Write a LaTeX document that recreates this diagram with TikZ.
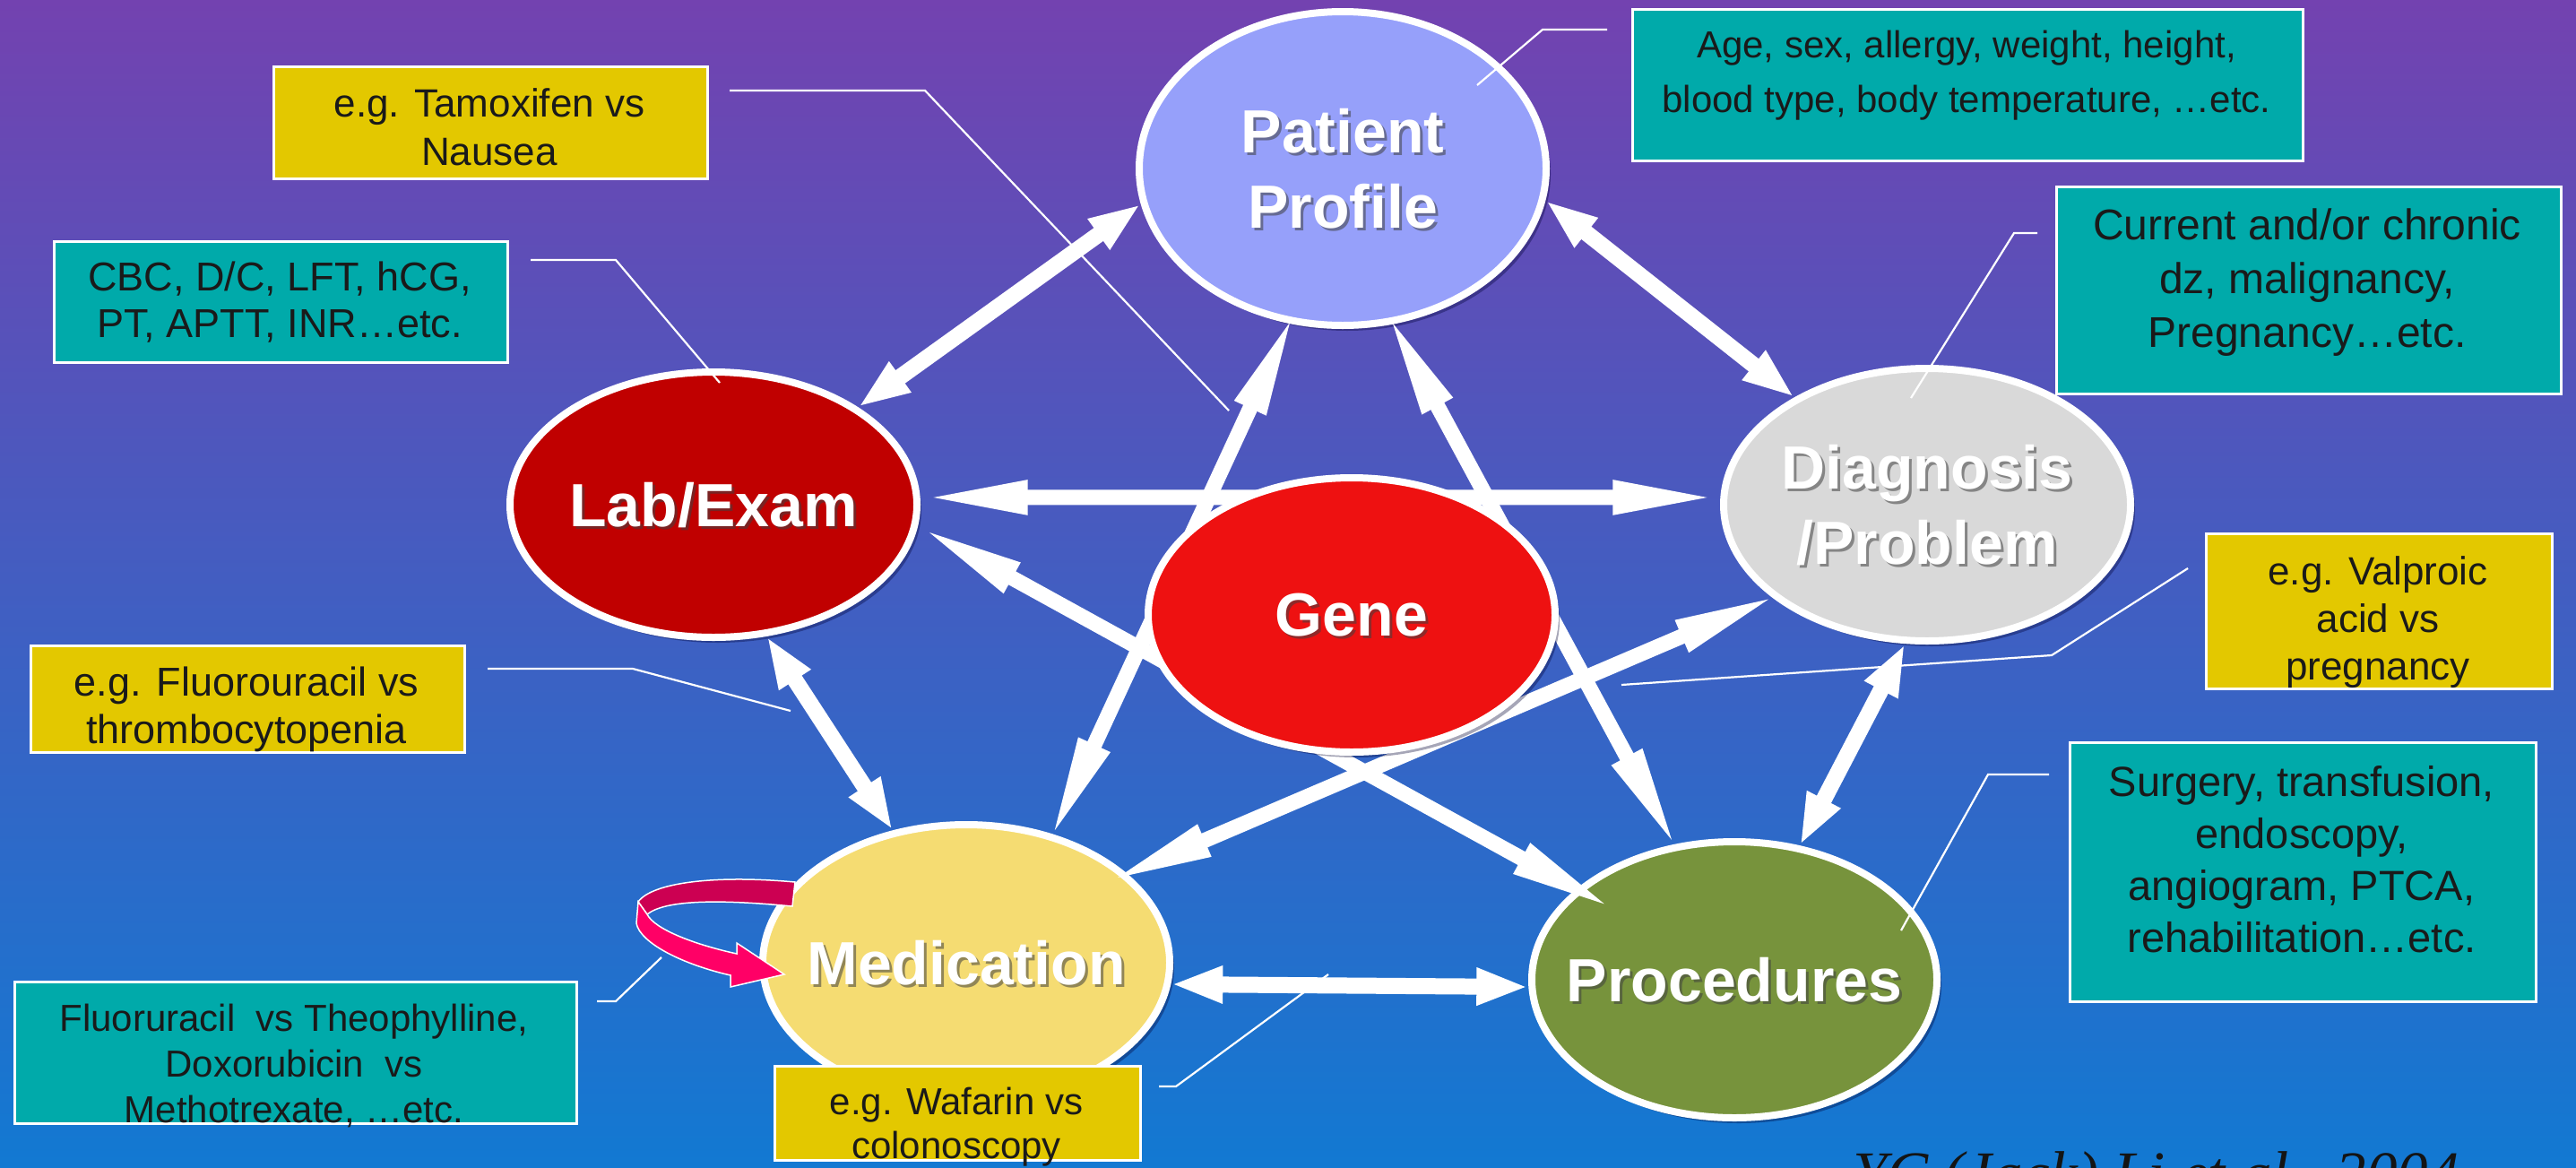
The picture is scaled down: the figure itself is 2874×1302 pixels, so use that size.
\documentclass[tikz,border=0pt]{standalone}
\usepackage{fontspec}
\setmainfont{Liberation Sans}
\newfontfamily\citeserif{Liberation Serif}
\usetikzlibrary{arrows.meta,shapes.geometric,shadows}
\pgfdeclarelayer{backdrop}
\pgfdeclarelayer{bubbles}
\pgfdeclarelayer{links}
\pgfsetlayers{backdrop,bubbles,links,main}

\definecolor{bgtop}{RGB}{115,66,176}
\definecolor{bgmid}{RGB}{72,90,192}
\definecolor{bgbot}{RGB}{18,121,210}
\definecolor{tealc}{RGB}{0,170,170}
\definecolor{goldc}{RGB}{227,200,0}
\definecolor{inktext}{RGB}{26,26,26}
\definecolor{ppfill}{RGB}{150,160,250}
\definecolor{labfill}{RGB}{192,0,0}
\definecolor{diafill}{RGB}{217,217,217}
\definecolor{genefill}{RGB}{238,17,17}
\definecolor{medfill}{RGB}{245,220,114}
\definecolor{profill}{RGB}{119,147,60}
\definecolor{ribbondark}{RGB}{204,0,82}
\definecolor{ribbonbright}{RGB}{255,0,102}

% centred lines stacked so that the box baseline is the first line's baseline
\newcommand\linestack[1]{\vtop{\halign{\hfil##\hfil\cr#1\crcr}}}

\tikzset{
  lbl/.style={font=\fontsize{68}{84}\selectfont\bfseries, align=center, text depth=0pt},
  bubble/.style={ellipse, draw=white, line width=8pt, inner sep=0pt, inner xsep=-40pt,
    text=white, lbl,
    drop shadow={shadow xshift=5pt, shadow yshift=-6pt, opacity=0.35, fill=black!80!blue},
    path picture={\node[lbl, shape=rectangle, draw=none, fill=none, inner sep=0pt,
      text=black!75, opacity=0.55]
      at ([xshift=3pt,yshift=-3pt]path picture bounding box.center) {#1};}},
  link/.style={draw=white, line width=18pt, >={Triangle[length=58pt,width=38pt]}, <->},
  starlink/.style={draw=white, line width=17pt, >={Triangle[length=120pt,width=34pt]}, <->},
  tealnote/.style={draw=white, line width=2.5pt, fill=tealc, inner sep=0pt, anchor=north west},
  goldnote/.style={draw=white, line width=2.5pt, fill=goldc, inner sep=0pt, anchor=north west},
  note/.style 2 args={anchor=base, text=inktext, inner sep=0pt, font=\fontsize{#1}{#2}\selectfont},
  leader/.style={draw=white, line width=2.2pt},
}

\begin{document}
\begin{tikzpicture}[x=1pt,y=-1pt]
\useasboundingbox (0,0) rectangle (2874,1302);
\begin{pgfonlayer}{backdrop}
  \shade[top color=bgtop, middle color=bgmid, bottom color=bgbot] (0,0) rectangle (2874,1302);
\end{pgfonlayer}

% the five outer topics
\begin{pgfonlayer}{bubbles}
\node[bubble={Patient\\Profile}, fill=ppfill, minimum width=454pt, minimum height=350pt]
  (pp) at (1498,188) {Patient\\Profile};
\node[bubble={Lab/Exam}, fill=labfill, minimum width=454pt, minimum height=296pt]
  (lab) at (796,563) {Lab/Exam};
\node[bubble={Diagnosis\\/Problem}, fill=diafill, minimum width=454pt, minimum height=304pt]
  (dia) at (2150,563) {Diagnosis\\/Problem};
\node[bubble={Medication}, fill=medfill, minimum width=454pt, minimum height=308pt]
  (med) at (1078,1074) {Medication};
\node[bubble={Procedures}, fill=profill, minimum width=452pt, minimum height=308pt]
  (pro) at (1935,1093) {Procedures};
\end{pgfonlayer}

% double arrows between every pair of outer topics
\begin{pgfonlayer}{links}
  \draw[link] (pp.190) -- (lab.34);
  \draw[link] (pp.351) -- (dia.141);
  \draw[link] (lab.292) -- (med.119);
  \draw[link] (dia.261) -- (pro.64);
  \draw[link] (med.354) -- (pro.182);
  \draw[starlink] (lab.2) -- (dia.178);
  \draw[starlink, shorten <=-16pt, shorten >=-10pt] (pp.251) -- (med.56);
  \draw[starlink, shorten <=-16pt, shorten >=-9pt] (pp.288) -- (pro.114);
  \draw[starlink, shorten >=-50pt] (lab.354) -- (pro.150);
  \draw[starlink, shorten <=-26pt, shorten >=-10pt] (med.29) -- (dia.211);
\end{pgfonlayer}

% the central topic sits over the arrows
\node[bubble={Gene}, fill=genefill, minimum width=454pt, minimum height=306pt]
  (gene) at (1508,686) {Gene};

% twisted ribbon arrow looping back into Medication
\fill[ribbondark, draw=white, line width=1.5pt]
  (887,984) -- (884,1011) .. controls (800,1003) and (742,1004) .. (722,1020)
  -- (712,1006) .. controls (728,984) and (800,976) .. (887,984) -- cycle;
\fill[ribbonbright, draw=white, line width=1.5pt]
  (712,1006) -- (710,1030) .. controls (714,1052) and (762,1076) .. (815,1088)
  -- (815,1101) -- (875,1087) -- (822,1052) -- (822,1064)
  .. controls (772,1053) and (730,1036) .. (722,1020) -- cycle;

% note boxes
\node[tealnote, minimum width=748pt, minimum height=169pt] (agebox) at (1820,9) {};
\node[note={42}{61}] (agetext) at (2194,64)
  {\linestack{Age, sex, allergy, weight, height,\cr blood type, body temperature, …etc.}};

\node[goldnote, minimum width=484pt, minimum height=125pt] (tambox) at (304,73) {};
\node[note={44}{54}] (tamtext) at (546,130)
  {\linestack{e.g. Tamoxifen vs\cr Nausea}};

\node[tealnote, minimum width=506pt, minimum height=135pt] (cbcbox) at (59,268) {};
\node[note={45}{52}] (cbctext) at (312,324)
  {\linestack{CBC, D/C, LFT, hCG,\cr PT, APTT, INR…etc.}};

\node[tealnote, minimum width=563pt, minimum height=231pt] (curbox) at (2293,207) {};
\node[note={48}{60}] (curtext) at (2574,267)
  {\linestack{Current and/or chronic\cr dz, malignancy,\cr Pregnancy…etc.}};

\node[goldnote, minimum width=386pt, minimum height=173pt] (valbox) at (2460,594) {};
\node[note={44}{53}] (valtext) at (2653,652)
  {\linestack{e.g. Valproic\cr acid vs\cr pregnancy}};

\node[goldnote, minimum width=484pt, minimum height=119pt] (flubox) at (33,719) {};
\node[note={45}{53}] (flutext) at (275,776)
  {\linestack{e.g. Fluorouracil vs\cr thrombocytopenia}};

\node[tealnote, minimum width=520pt, minimum height=289pt] (surbox) at (2308,827) {};
\node[note={47}{58}] (surtext) at (2568,888)
  {\linestack{Surgery, transfusion,\cr endoscopy,\cr angiogram, PTCA,\cr rehabilitation…etc.}};

\node[tealnote, minimum width=627pt, minimum height=158pt] (theobox) at (15,1094) {};
\node[note={42}{51}] (theotext) at (328,1150)
  {\linestack{Fluoruracil\ \ vs Theophylline,\cr Doxorubicin\ \ vs\cr Methotrexate, …etc.}};

\node[goldnote, minimum width=408pt, minimum height=105pt] (wafbox) at (863,1188) {};
\node[note={42}{49}] (waftext) at (1067,1243)
  {\linestack{e.g. Wafarin vs\cr colonoscopy}};

% leader lines from the notes
\coordinate (a1) at (1793,33);  \coordinate (a2) at (1721,33);  \coordinate (a3) at (1648,95);
\coordinate (b1) at (814,101);  \coordinate (b2) at (1032,101); \coordinate (b3) at (1371,458);
\coordinate (c1) at (592,290);  \coordinate (c2) at (687,290);  \coordinate (c3) at (803,427);
\coordinate (d1) at (2273,260); \coordinate (d2) at (2247,260); \coordinate (d3) at (2132,444);
\coordinate (e1) at (2441,634); \coordinate (e2) at (2289,731); \coordinate (e3) at (1809,764);
\coordinate (f1) at (544,746);  \coordinate (f2) at (706,746);  \coordinate (f3) at (882,793);
\coordinate (g1) at (2286,864); \coordinate (g2) at (2218,864); \coordinate (g3) at (2121,1038);
\coordinate (h1) at (666,1117); \coordinate (h2) at (687,1117); \coordinate (h3) at (738,1068);
\coordinate (i1) at (1293,1212); \coordinate (i2) at (1312,1212); \coordinate (i3) at (1482,1087);
\draw[leader] (a1) -- (a2) -- (a3);
\draw[leader] (b1) -- (b2) -- (b3);
\draw[leader] (c1) -- (c2) -- (c3);
\draw[leader] (d1) -- (d2) -- (d3);
\draw[leader] (e1) -- (e2) -- (e3);
\draw[leader] (f1) -- (f2) -- (f3);
\draw[leader] (g1) -- (g2) -- (g3);
\draw[leader] (h1) -- (h2) -- (h3);
\draw[leader] (i1) -- (i2) -- (i3);

% source line
\node[anchor=base west, inner sep=0pt, text=black!92,
  font=\citeserif\itshape\fontsize{69}{80}\selectfont] (cite) at (2067,1332)
  {YC (Jack) Li et al., 2004};
\end{tikzpicture}
\end{document}
